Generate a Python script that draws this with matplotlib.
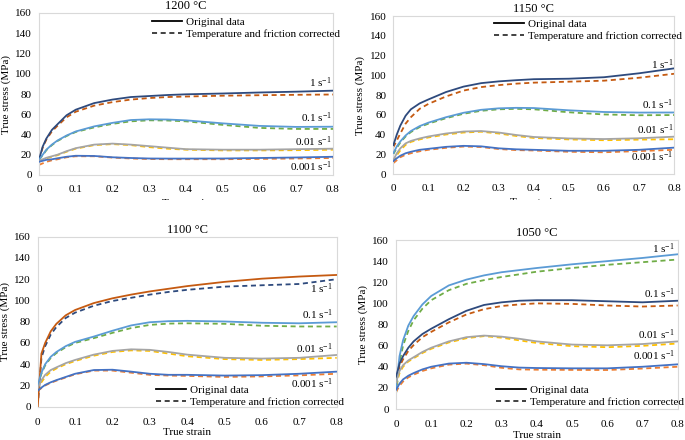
import matplotlib
matplotlib.use("Agg")
import matplotlib.pyplot as plt
from matplotlib.lines import Line2D
from matplotlib.patches import Rectangle

plt.rcParams['font.family'] = ['Liberation Serif', 'DejaVu Serif']
plt.rcParams['mathtext.default'] = 'regular'

# ---------------- data ----------------
strain = [0, 0.01, 0.02, 0.035, 0.05, 0.075, 0.1, 0.15, 0.2, 0.25, 0.3, 0.35, 0.4, 0.5, 0.6, 0.7, 0.8]
rates = ["1 s$^{-1}$", "0.1 s$^{-1}$", "0.01 s$^{-1}$", "0.001 s$^{-1}$"]
titles = ["1200 °C", "1150 °C", "1100 °C", "1050 °C"]
x_ticks = [0, 0.1, 0.2, 0.3, 0.4, 0.5, 0.6, 0.7, 0.8]
y_ticks = [0, 20, 40, 60, 80, 100, 120, 140, 160]

# 1200 °C
orig_1200 = [
    [15, 28, 36, 44.5, 50, 59, 64.5, 71, 74.5, 77, 78, 79, 79.7, 80.5, 81.5, 82.3, 83.3],
    [15, 20, 25, 30, 34, 39, 43, 48, 51.5, 54.3, 55, 54.8, 54, 51, 48.5, 47.5, 47.7],
    [14, 15.5, 17, 18.5, 20, 23.5, 26.5, 30, 31, 30, 28.5, 27, 25.5, 25, 25, 25.5, 26],
    [13, 14, 15, 15.5, 16.5, 18, 19, 18.8, 17.5, 16.8, 16.3, 16.2, 16.2, 16.3, 16.8, 17.3, 18],
]
corr_1200 = [
    [15, 27, 35, 43, 48.5, 57, 62.5, 68.5, 72, 74.5, 76, 77, 77.5, 78.3, 78.8, 79.2, 79.5],
    [15, 19.5, 24.5, 29.5, 33.5, 38.5, 42.5, 47, 50.5, 53, 54, 53.8, 53, 49.5, 46.5, 45.5, 45.5],
    [13, 15, 16.5, 18, 19.5, 23, 26, 29.5, 30.5, 29.5, 27.5, 26, 25, 24.3, 24.3, 24.5, 25],
    [10, 11.5, 13, 14.5, 15.5, 17.5, 18.5, 18.5, 17.2, 16.3, 15.8, 15.6, 15.6, 15.6, 15.9, 16.3, 16.8],
]
# 1150 °C
orig_1150 = [
    [29, 40, 49, 59, 65.5, 71.5, 75.5, 83, 88.5, 92, 93.8, 95, 96, 96.5, 98, 102, 107],
    [21, 28, 33, 39, 43.5, 48.5, 52, 57.5, 62, 65, 66.5, 67, 66.8, 64.5, 62.8, 62.2, 62.3],
    [14, 21, 26, 31, 33.5, 36, 38, 41, 43, 43.5, 42, 39.5, 37.5, 36, 35.4, 36.2, 37.8],
    [13, 16, 18.5, 21, 22.5, 24.5, 25.5, 27.5, 28.5, 28, 26, 25, 24.5, 23.5, 23.5, 24.5, 26.7],
]
corr_1150 = [
    [27, 34, 41, 51, 57.5, 66, 71, 78.5, 84.5, 88, 90, 91.5, 92.5, 93.5, 94.5, 97.5, 101.5],
    [20, 26.5, 32, 38, 42.5, 47.5, 51, 56.5, 61, 64, 65.5, 66, 65.5, 62.5, 60.3, 59.5, 59.7],
    [12, 19, 24, 29.5, 32.5, 35, 37, 40, 42, 42.8, 41, 38.5, 36.5, 35, 34.2, 34.8, 35.2],
    [11, 14, 17, 19.5, 21, 23, 24.5, 26.5, 27.8, 27.3, 25.3, 24.2, 23.8, 22.5, 22, 23.2, 24.5],
]
# 1100 °C
orig_1100 = [
    [0, 50, 60, 71, 78, 86, 91, 97.5, 102, 105.5, 108.5, 111, 113.5, 117.5, 120.5, 122.5, 124],
    [20, 32, 40, 47, 51.5, 57, 61, 66, 71.5, 76.5, 79.5, 80.5, 80.8, 80.2, 79, 78.5, 79.5],
    [17, 25, 30, 34.5, 37, 41, 44, 49, 52.5, 54, 53.5, 51.5, 49, 46, 45.3, 46, 48.7],
    [15, 18, 20.5, 23, 25, 28, 31, 34.5, 34.8, 33, 31, 30, 30, 29.3, 29.7, 31, 33],
]
corr_1100 = [
    [0, 46, 57, 68, 75, 83.5, 88.5, 95, 99.5, 102.5, 105.5, 108, 110, 113, 114.3, 115.5, 120],
    [20, 31, 39, 46, 50.5, 56, 60, 64.5, 69.5, 74, 77, 78.2, 78.5, 78, 76.2, 75.5, 75.5],
    [15, 23, 28, 33, 36, 40, 43, 48, 51.5, 53, 52.5, 50, 47.5, 44.8, 44, 44.8, 46],
    [15, 17.5, 20, 22.5, 24.5, 27.5, 30.5, 34, 34, 32, 30, 29.3, 29, 28, 28.5, 29.5, 31],
]
# 1050 °C
orig_1050 = [
    [20, 50, 65, 79, 88, 99, 107, 117, 122.5, 126.5, 129.5, 131.5, 133.5, 137, 140, 143, 146.5],
    [30, 43, 50, 58, 64, 71, 76, 85, 93, 98.5, 101, 102.5, 103, 103, 102, 101, 102.5],
    [25, 36, 41.5, 46, 49, 54, 58, 64, 68, 69.5, 68.5, 66.5, 64, 61, 60.3, 61.5, 64],
    [18, 24, 28, 31.5, 34, 37.5, 40, 43, 43.8, 42.5, 40.5, 39.2, 38.8, 38.5, 38.5, 40, 42.3],
]
corr_1050 = [
    [14, 44, 60, 74, 84, 95, 103, 112.5, 118.5, 122, 125, 127.5, 130, 133.5, 136.5, 139, 141.5],
    [28, 40, 47, 55, 60.5, 68, 73, 82, 89.5, 94.5, 97.5, 99, 100, 99.5, 98, 97, 98],
    [22, 34, 40, 45, 48, 53, 57, 63, 67, 69, 67.5, 65, 62.5, 59.5, 58.5, 59.8, 62],
    [16, 22, 26, 30, 32.5, 36, 38.5, 42, 43, 41.5, 39, 37.5, 37.2, 37, 36.9, 38.3, 40],
]

# label y-positions (MPa) for the strain-rate annotations
label_y = [
    [91.6, 56.6, 32.9, 8.2],
    [111, 70.6, 44.5, 17.5],
    [111.4, 87, 54.6, 22],
    [152, 108.9, 70.7, 50.5],
]

# ---------------- styles ----------------
NAVY = '#2E4A7D'
ORANGE_D = '#C55A11'
ORANGE = '#ED7D31'
LBLUE = '#5B9BD5'
GREEN = '#70AD47'
GRAY = '#A5A5A5'
GOLD = '#FFC000'
BLUE = '#4472C4'

colors = [
    [(NAVY, ORANGE_D), (LBLUE, GREEN), (GRAY, GOLD), (BLUE, ORANGE)],
    [(NAVY, ORANGE_D), (LBLUE, GREEN), (GRAY, GOLD), (BLUE, ORANGE)],
    [(ORANGE_D, NAVY), (LBLUE, GREEN), (GRAY, GOLD), (BLUE, ORANGE)],
    [(LBLUE, GREEN), (NAVY, ORANGE_D), (GRAY, GOLD), (BLUE, ORANGE)],
]

W, H = 685, 440
def fx(px):
    return px / W
def fy(py):
    return 1 - py / H

# axes boxes in pixels: left, right, top, bottom
boxes = [
    (39, 333, 13, 175),
    (393.3, 674.3, 16, 174),
    (37.7, 336.7, 236.7, 406.7),
    (396, 677.7, 240, 409),
]
legend_pos = [(152, 17), (494, 19), (156, 385), (496, 385)]
label_x = [0.797, 0.797, 0.79, 0.792]

orig_all = [orig_1200, orig_1150, orig_1100, orig_1050]
corr_all = [corr_1200, corr_1150, corr_1100, corr_1050]

DASH = (2.8, 2.0)

fig = plt.figure(figsize=(W / 100, H / 100), dpi=100)

for i in range(4):
    l, r, t, b = boxes[i]
    ax = fig.add_axes([fx(l), fy(b), fx(r) - fx(l), fy(t) - fy(b)])
    for k in range(4):
        co, cc = colors[i][k]
        ax.plot(strain, orig_all[i][k], color=co, lw=1.3, solid_joinstyle='round',
                solid_capstyle='round', zorder=3)
        ax.plot(strain, corr_all[i][k], color=cc, lw=1.3, dashes=DASH, zorder=2)
        ax.text(label_x[i], label_y[i][k], rates[k], ha='right', va='center', fontsize=8)
    ax.set_xlim(0, 0.8)
    ax.set_ylim(0, 160)
    ax.set_xticks(x_ticks)
    ax.set_xticklabels([('%g' % v) for v in x_ticks])
    ax.set_yticks(y_ticks)
    ax.tick_params(length=0, labelsize=8, pad=5)
    ax.tick_params(axis='x', pad=7 if i < 2 else 8)
    for sp in ax.spines.values():
        sp.set_color('#D9D9D9')
        sp.set_linewidth(0.8)
    ax.set_title(titles[i], fontsize=9, pad=3)
    ax.set_ylabel('True stress (MPa)', fontsize=8, labelpad=3)
    ax.set_xlabel('True strain', fontsize=8, labelpad=4 if i < 2 else 1)

    handles = [Line2D([], [], color='black', lw=1.3),
               Line2D([], [], color='#333333', lw=1.3, dashes=DASH)]
    lx, ly = legend_pos[i]
    ax.legend(handles, ['Original data', 'Temperature and friction corrected'],
              loc='upper left', bbox_to_anchor=(fx(lx), fy(ly)),
              bbox_transform=fig.transFigure, frameon=False, fontsize=8,
              handlelength=2.7, handletextpad=0.35, labelspacing=0.25,
              borderpad=0, borderaxespad=0)

# the upper charts are cropped just below their tick labels
fig.patches.append(Rectangle((0, fy(222)), 1, fy(200) - fy(222),
                             transform=fig.transFigure, facecolor='white',
                             edgecolor='none', zorder=10))

fig.savefig('out.png', dpi=100)
